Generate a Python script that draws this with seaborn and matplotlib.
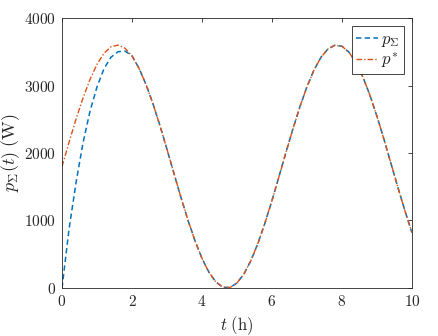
import numpy as np
import pandas as pd
import matplotlib
matplotlib.use("Agg")
import matplotlib.pyplot as plt
import seaborn as sns

# -------- Data --------
t_h = [0.0, 0.2, 0.4, 0.6, 0.8, 1.0, 1.2, 1.4, 1.6, 1.8, 2.0, 2.2, 2.4, 2.6, 2.8,
       3.0, 3.2, 3.4, 3.6, 3.8, 4.0, 4.2, 4.4, 4.6, 4.8, 5.0, 5.2, 5.4, 5.6, 5.8,
       6.0, 6.2, 6.4, 6.6, 6.8, 7.0, 7.2, 7.4, 7.6, 7.8, 8.0, 8.2, 8.4, 8.6, 8.8,
       9.0, 9.2, 9.4, 9.6, 9.8, 10.0]

p_ref = [1800, 2158, 2501, 2816, 3091, 3315, 3478, 3574, 3599, 3553, 3437, 3255,
         3016, 2728, 2403, 2054, 1695, 1340, 1003, 699, 438, 231, 87, 11, 7, 74,
         210, 409, 664, 964, 1297, 1650, 2010, 2361, 2689, 2983, 3229, 3418, 3542,
         3597, 3581, 3493, 3338, 3122, 2853, 2542, 2201, 1845, 1486, 1140, 821]

p_sum = [0, 870, 1560, 2150, 2620, 2980, 3250, 3420, 3500, 3510, 3440, 3255,
         3016, 2728, 2403, 2054, 1695, 1340, 1003, 699, 438, 231, 87, 11, 7, 74,
         210, 409, 664, 964, 1297, 1650, 2010, 2361, 2689, 2983, 3229, 3418, 3542,
         3597, 3581, 3493, 3338, 3122, 2853, 2542, 2201, 1845, 1486, 1140, 821]

x_ticks = [0, 2, 4, 6, 8, 10]
y_ticks = [0, 1000, 2000, 3000, 4000]

# -------- Style --------
sns.set_style("white")
plt.rcParams["mathtext.fontset"] = "cm"
plt.rcParams["font.family"] = ["DejaVu Serif"]
plt.rcParams["axes.edgecolor"] = "#262626"
plt.rcParams["axes.linewidth"] = 0.6

df = pd.DataFrame({"t": t_h, "sum": p_sum, "ref": p_ref})

fig = plt.figure(figsize=(4.38, 3.36), dpi=100)
ax = fig.add_axes([0.1416, 0.1429, 0.799, 0.8035])

sns.lineplot(data=df, x="t", y="sum", ax=ax, color="#0072BD", lw=1.1,
             dashes=False, label=r"$p_{\Sigma}$")
sns.lineplot(data=df, x="t", y="ref", ax=ax, color="#D95319", lw=1.0,
             dashes=False, label=r"$p^{*}$")
ax.lines[0].set_dashes([3.5, 2.2])
ax.lines[1].set_dashes([4, 1.5, 1, 1.5])

ax.set_xlim(0, 10)
ax.set_ylim(0, 4000)
ax.set_xticks(x_ticks)
ax.set_yticks(y_ticks)
ax.set_xticklabels([f"${v}$" for v in x_ticks], fontsize=11)
ax.set_yticklabels([f"${v}$" for v in y_ticks], fontsize=11)
ax.tick_params(direction="in", length=3, width=0.6, color="#262626",
               top=True, right=True, labelcolor="#262626", pad=4)
for s in ax.spines.values():
    s.set_visible(True)

ax.set_xlabel(r"$t\ \mathrm{(h)}$", fontsize=12, color="#262626")
ax.set_ylabel(r"$p_{\Sigma}(t)\ \mathrm{(W)}$", fontsize=13, color="#262626",
              labelpad=2)

leg = ax.legend(loc="upper right", fontsize=12, fancybox=False, framealpha=1,
                edgecolor="#262626", handlelength=1.3, borderpad=0.25,
                labelspacing=0.1, handletextpad=0.2, borderaxespad=0.5)
leg.get_frame().set_linewidth(0.6)
leg.get_lines()[0].set_dashes([3.5, 2.2])
leg.get_lines()[1].set_dashes([4, 1.5, 1, 1.5])

fig.savefig("out.png", dpi=100)
